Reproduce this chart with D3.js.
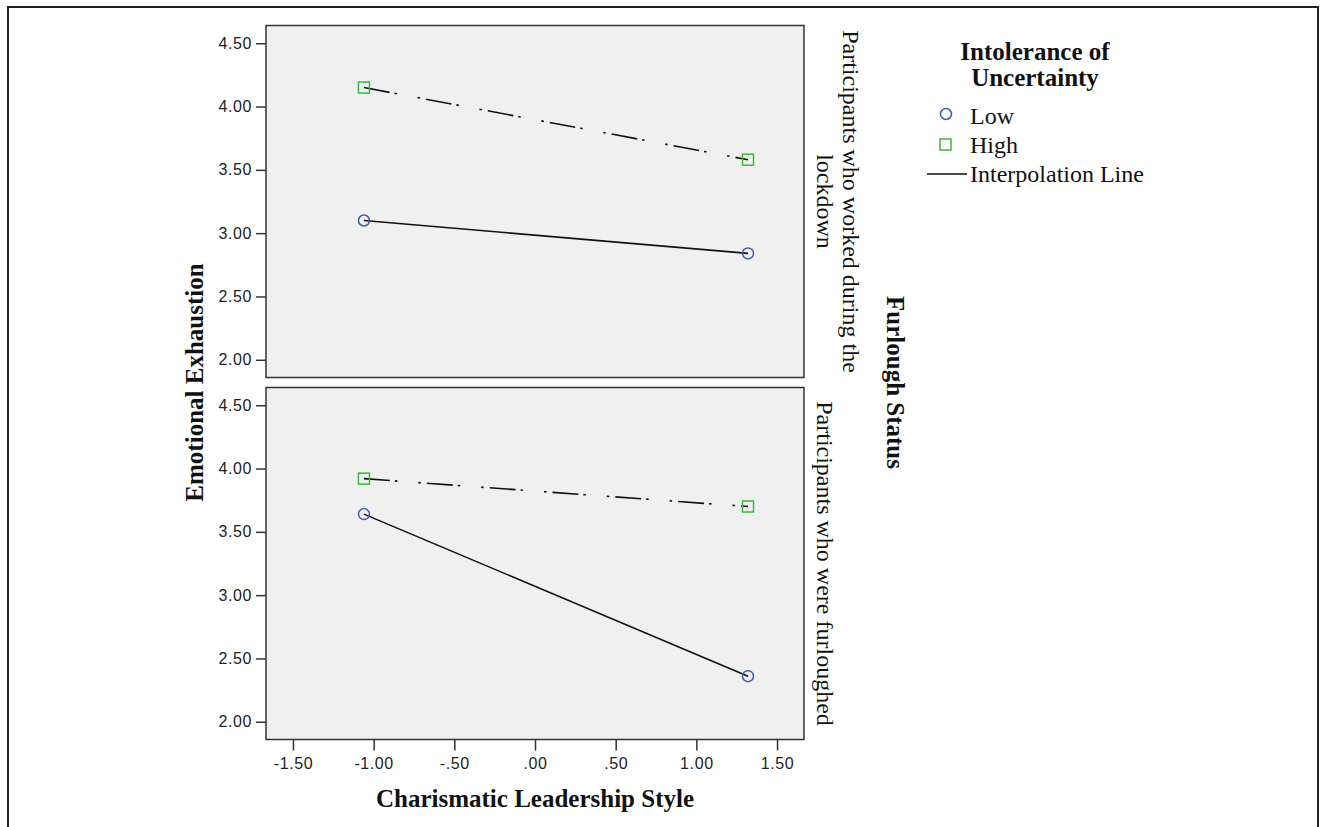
<!DOCTYPE html>
<html>
<head>
<meta charset="utf-8">
<script src="https://cdn.jsdelivr.net/npm/d3@7"></script>
<style>
  body { margin: 0; background: #fff; }
  svg { display: block; }
</style>
</head>
<body>
<svg width="1320" height="827"></svg>
<script>
// data
var xValues = [-1.06, 1.32];
var panelLabels = [
    ["Participants who worked during the", "lockdown"],
    ["Participants who were furloughed"]
];
var lowValues = [[3.10, 2.84], [3.64, 2.36]];
var highValues = [[4.15, 3.58], [3.92, 3.70]];
var xTicks = [-1.5, -1, -0.5, 0, 0.5, 1, 1.5];
var xTickLabels = ["-1.50", "-1.00", "-.50", ".00", ".50", "1.00", "1.50"];
var yTicks = [2, 2.5, 3, 3.5, 4, 4.5];
var yTickLabels = ["2.00", "2.50", "3.00", "3.50", "4.00", "4.50"];

var serif = "'Liberation Serif', 'Times New Roman', serif";
var sans = "'Liberation Sans', Arial, sans-serif";
var blue = "#3f5bb8", green = "#3cb83c";

var svg = d3.select("svg");

// outer frame
svg.append("rect")
    .attr("x", 8).attr("y", 7)
    .attr("width", 1310).attr("height", 830)
    .attr("fill", "none").attr("stroke", "#222").attr("stroke-width", 2);

var left = 266, right = 804;
var panelTops = [25.5, 387.5], panelH = 352;

var xScale = d3.scaleLinear().domain([-1.667, 1.667]).range([left, right]);

panelTops.forEach(function(top, p) {
    var yScale = d3.scaleLinear().domain([1.86, 4.64]).range([top + panelH, top]);
    var g = svg.append("g");

    g.append("rect")
        .attr("x", left).attr("y", top)
        .attr("width", right - left).attr("height", panelH)
        .attr("fill", "#f0f0f0").attr("stroke", "#333").attr("stroke-width", 1.5);

    // y axis
    var yAxis = g.append("g")
        .attr("transform", "translate(" + left + ",0)")
        .call(d3.axisLeft(yScale).tickValues(yTicks).tickSize(10).tickPadding(4)
            .tickFormat(function(d, i) { return yTickLabels[i]; }));
    yAxis.select(".domain").remove();
    yAxis.selectAll("line").attr("stroke", "#333").attr("stroke-width", 1.5);
    yAxis.selectAll("text").attr("font-family", sans).attr("font-size", 16)
        .attr("letter-spacing", 0.6).attr("fill", "#222");

    // x axis only under the last panel
    if (p == panelTops.length - 1) {
        var xAxis = g.append("g")
            .attr("transform", "translate(0," + (top + panelH) + ")")
            .call(d3.axisBottom(xScale).tickValues(xTicks).tickSize(11).tickPadding(7)
                .tickFormat(function(d, i) { return xTickLabels[i]; }));
        xAxis.select(".domain").remove();
        xAxis.selectAll("line").attr("stroke", "#333").attr("stroke-width", 1.5);
        xAxis.selectAll("text").attr("font-family", sans).attr("font-size", 16)
            .attr("letter-spacing", 0.6).attr("fill", "#222");
    }

    var line = d3.line()
        .x(function(d, i) { return xScale(xValues[i]); })
        .y(function(d) { return yScale(d); });

    g.append("path")
        .attr("d", line(highValues[p]))
        .attr("fill", "none").attr("stroke", "#111").attr("stroke-width", 1.6)
        .attr("stroke-dasharray", "26 5 2.5 21 2.5 6");

    g.append("path")
        .attr("d", line(lowValues[p]))
        .attr("fill", "none").attr("stroke", "#111").attr("stroke-width", 1.6);

    g.selectAll(".low")
        .data(lowValues[p])
        .enter().append("circle")
        .attr("cx", function(d, i) { return xScale(xValues[i]); })
        .attr("cy", function(d) { return yScale(d); })
        .attr("r", 5.5)
        .attr("fill", "none").attr("stroke", blue).attr("stroke-width", 1.5);

    g.selectAll(".high")
        .data(highValues[p])
        .enter().append("rect")
        .attr("x", function(d, i) { return xScale(xValues[i]) - 5.5; })
        .attr("y", function(d) { return yScale(d) - 5.5; })
        .attr("width", 11).attr("height", 11)
        .attr("fill", "none").attr("stroke", green).attr("stroke-width", 1.5);

    // strip label on the right, reading downwards
    var lines = panelLabels[p];
    var cy = top + panelH / 2;
    lines.forEach(function(txt, k) {
        var bx = 817 + (lines.length - 1 - k) * 26;
        svg.append("text")
            .attr("transform", "translate(" + bx + "," + cy + ") rotate(90)")
            .attr("text-anchor", "middle")
            .attr("font-family", serif).attr("font-size", 24).attr("fill", "#111")
            .text(txt);
    });
});

// axis titles
svg.append("text")
    .attr("x", (left + right) / 2).attr("y", 807)
    .attr("text-anchor", "middle")
    .attr("font-family", serif).attr("font-size", 25).attr("font-weight", "bold")
    .attr("fill", "#111")
    .text("Charismatic Leadership Style");

svg.append("text")
    .attr("transform", "translate(203," + ((panelTops[0] + panelTops[1] + panelH) / 2) + ") rotate(-90)")
    .attr("text-anchor", "middle")
    .attr("font-family", serif).attr("font-size", 25).attr("font-weight", "bold")
    .attr("fill", "#111")
    .text("Emotional Exhaustion");

svg.append("text")
    .attr("transform", "translate(887," + ((panelTops[0] + panelTops[1] + panelH) / 2) + ") rotate(90)")
    .attr("text-anchor", "middle")
    .attr("font-family", serif).attr("font-size", 25).attr("font-weight", "bold")
    .attr("fill", "#111")
    .text("Furlough Status");

// legend
var legendTitle = ["Intolerance of", "Uncertainty"];
svg.selectAll(".ltitle")
    .data(legendTitle)
    .enter().append("text")
    .attr("x", 1035).attr("y", function(d, i) { return 60 + i * 26; })
    .attr("text-anchor", "middle")
    .attr("font-family", serif).attr("font-size", 25).attr("font-weight", "bold")
    .attr("fill", "#111")
    .text(function(d) { return d; });

var legendItems = ["Low", "High", "Interpolation Line"];
svg.selectAll(".litem")
    .data(legendItems)
    .enter().append("text")
    .attr("x", 970).attr("y", function(d, i) { return 124 + i * 29; })
    .attr("font-family", serif).attr("font-size", 24).attr("fill", "#111")
    .text(function(d) { return d; });

svg.append("circle")
    .attr("cx", 946).attr("cy", 114).attr("r", 5.5)
    .attr("fill", "none").attr("stroke", blue).attr("stroke-width", 1.5);
svg.append("rect")
    .attr("x", 940).attr("y", 139).attr("width", 11).attr("height", 11)
    .attr("fill", "none").attr("stroke", green).attr("stroke-width", 1.5);
svg.append("line")
    .attr("x1", 927).attr("x2", 967).attr("y1", 174).attr("y2", 174)
    .attr("stroke", "#111").attr("stroke-width", 1.6);
</script>
</body>
</html>
